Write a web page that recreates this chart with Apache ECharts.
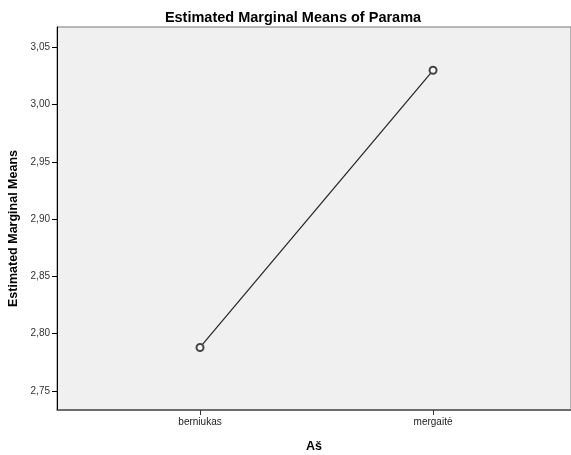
<!DOCTYPE html>
<html>
<head>
<meta charset="utf-8">
<script src="https://cdn.jsdelivr.net/npm/echarts@6/dist/echarts.min.js"></script>
<style>
html,body{margin:0;padding:0;background:#fff;}
#c{width:571px;height:455px;}
</style>
</head>
<body>
<div id="c"></div>
<script>
const categories = ['berniukas', 'mergaitė'];
const means = [2.788, 3.030];
const yTicks = [2.75, 2.80, 2.85, 2.90, 2.95, 3.00, 3.05];
const titleText = 'Estimated Marginal Means of Parama';
const xName = 'Aš';
const yName = 'Estimated Marginal Means';

const chart = echarts.init(document.getElementById('c'), null, {renderer: 'canvas'});
const seriesData = categories.map((c, i) => [i, means[i]]);
const fmt = v => v.toFixed(2).replace('.', ',');

chart.setOption({
  animation: false,
  backgroundColor: '#ffffff',
  title: {
    text: titleText,
    left: 288, top: 5, textAlign: 'center',
    textStyle: {fontFamily: 'Liberation Sans', fontSize: 14.5, fontWeight: 'bold', color: '#000'}
  },
  grid: {
    left: 57, right: 0, top: 27, bottom: 45,
    outerBoundsMode: 'none', containLabel: false,
    show: true, backgroundColor: '#f0f0f0', borderColor: '#777', borderWidth: 1
  },
  xAxis: {
    type: 'value',
    min: -0.6137, max: 1.592,
    name: xName, nameLocation: 'middle', nameGap: 30,
    nameTextStyle: {fontFamily: 'Liberation Sans', fontSize: 12.5, fontWeight: 'bold', color: '#000'},
    axisLine: {show: true, onZero: false, lineStyle: {color: '#555', width: 1.5}},
    axisTick: {show: true, length: 5, lineStyle: {color: '#333'}, customValues: categories.map((c, i) => i)},
    axisLabel: {
      customValues: categories.map((c, i) => i),
      formatter: v => categories[Math.round(v)],
      fontFamily: 'Liberation Sans', fontSize: 10, color: '#222', margin: 7
    },
    splitLine: {show: false}
  },
  yAxis: {
    type: 'value',
    min: 2.7334, max: 3.0678,
    name: yName, nameLocation: 'middle', nameGap: 35, nameRotate: 90,
    nameTextStyle: {fontFamily: 'Liberation Sans', fontSize: 12.5, fontWeight: 'bold', color: '#000', padding: [0, 20, 0, 0]},
    axisLine: {show: true, onZero: false, lineStyle: {color: '#000', width: 1}},
    axisTick: {show: true, length: 5, lineStyle: {color: '#000'}, customValues: yTicks},
    axisLabel: {
      customValues: yTicks,
      formatter: v => fmt(v),
      fontFamily: 'Liberation Sans', fontSize: 10, color: '#333', margin: 7
    },
    splitLine: {show: false}
  },
  series: [{
    type: 'line',
    data: seriesData,
    symbol: 'emptyCircle', symbolSize: 7,
    lineStyle: {color: '#222', width: 1.2},
    itemStyle: {color: '#444', borderWidth: 0.8},
    z: 3
  }]
});
</script>
</body>
</html>
